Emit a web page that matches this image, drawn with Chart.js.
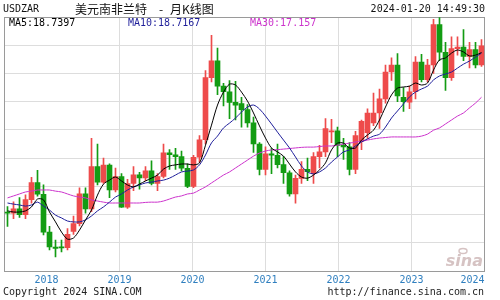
<!DOCTYPE html>
<html>
<head>
<meta charset="utf-8">
<script src="https://cdn.jsdelivr.net/npm/chart.js@4.4.1/dist/chart.umd.min.js"></script>
<style>
  html, body { margin: 0; padding: 0; background: #fff; }
  #wrap { width: 500px; height: 300px; }
</style>
</head>
<body>
<div id="wrap"><canvas id="kChart" width="500" height="300"></canvas></div>
<script>
// USDZAR monthly candles, Jun 2017 .. Jan 2024
var months = [
  "2017-06", "2017-07", "2017-08", "2017-09", "2017-10", "2017-11", "2017-12",
  "2018-01", "2018-02", "2018-03", "2018-04", "2018-05", "2018-06", "2018-07", "2018-08", "2018-09", "2018-10", "2018-11", "2018-12",
  "2019-01", "2019-02", "2019-03", "2019-04", "2019-05", "2019-06", "2019-07", "2019-08", "2019-09", "2019-10", "2019-11", "2019-12",
  "2020-01", "2020-02", "2020-03", "2020-04", "2020-05", "2020-06", "2020-07", "2020-08", "2020-09", "2020-10", "2020-11", "2020-12",
  "2021-01", "2021-02", "2021-03", "2021-04", "2021-05", "2021-06", "2021-07", "2021-08", "2021-09", "2021-10", "2021-11", "2021-12",
  "2022-01", "2022-02", "2022-03", "2022-04", "2022-05", "2022-06", "2022-07", "2022-08", "2022-09", "2022-10", "2022-11", "2022-12",
  "2023-01", "2023-02", "2023-03", "2023-04", "2023-05", "2023-06", "2023-07", "2023-08", "2023-09", "2023-10", "2023-11", "2023-12",
  "2024-01"
];

var opens = [
  13.09, 13.05, 13.20, 13.00, 13.53, 14.13, 13.72,
  12.38, 11.85, 11.86, 11.83, 12.40, 12.68, 13.73, 13.20, 14.70, 14.15, 14.75, 13.87,
  14.35, 13.26, 14.10, 14.41, 14.30, 14.55, 14.10, 14.35, 15.19, 15.12, 15.05, 14.64,
  14.00, 15.03, 15.65, 17.85, 18.45, 17.55, 17.35, 16.98, 16.93, 16.72, 16.25, 15.50,
  14.60, 15.15, 15.10, 14.77, 14.48, 13.73, 14.28, 14.60, 14.45, 15.05, 15.22, 15.93,
  15.97, 15.45, 15.40, 14.60, 15.60, 15.90, 16.25, 16.60, 17.10, 18.05, 18.30, 17.15,
  16.98, 17.35, 18.40, 17.78, 18.30, 19.73, 18.75, 17.85, 18.88, 18.93, 18.60, 18.85,
  18.30
];
var highs = [
  13.28, 13.45, 13.60, 13.70, 14.32, 14.57, 14.05,
  12.58, 12.10, 12.10, 12.50, 12.95, 13.95, 13.95, 15.70, 15.50, 15.00, 14.80, 14.65,
  14.45, 14.25, 14.70, 14.50, 14.70, 14.90, 14.45, 15.50, 15.30, 15.35, 15.25, 14.80,
  15.10, 15.80, 18.10, 19.35, 18.90, 17.65, 17.75, 17.72, 17.15, 16.90, 16.45, 15.55,
  15.40, 15.35, 15.50, 15.05, 14.55, 14.40, 14.88, 15.00, 15.20, 15.45, 16.40, 16.37,
  16.10, 15.70, 15.55, 15.95, 16.35, 16.75, 17.30, 17.45, 18.30, 18.55, 18.70, 17.50,
  17.55, 18.60, 18.68, 18.50, 19.92, 19.98, 19.10, 19.30, 19.30, 19.55, 19.10, 19.10,
  19.20
];
var lows = [
  12.58, 12.85, 12.90, 12.85, 13.40, 13.65, 12.28,
  11.75, 11.50, 11.68, 11.75, 12.30, 12.60, 13.05, 13.10, 14.05, 14.10, 13.60, 13.80,
  13.25, 13.22, 13.85, 13.90, 14.20, 14.05, 13.85, 14.30, 14.60, 14.60, 14.55, 13.95,
  13.95, 14.85, 15.50, 17.70, 17.25, 16.85, 16.40, 16.35, 16.10, 16.10, 15.20, 14.40,
  14.40, 14.45, 14.65, 14.10, 13.65, 13.40, 14.10, 14.20, 14.10, 14.65, 15.05, 15.55,
  15.05, 14.95, 14.40, 14.45, 15.30, 15.70, 16.15, 16.05, 16.95, 17.75, 17.00, 16.65,
  16.75, 17.10, 17.70, 17.70, 18.00, 18.45, 17.40, 17.75, 18.65, 18.45, 18.20, 18.20,
  18.25
];
var closes = [
  13.05, 13.20, 13.00, 13.53, 14.13, 13.72, 12.38,
  11.85, 11.80, 11.82, 12.30, 12.68, 13.73, 13.20, 14.70, 14.15, 14.75, 13.87, 14.35,
  13.26, 14.10, 14.41, 14.30, 14.55, 14.10, 14.35, 15.19, 15.12, 15.05, 14.64, 14.00,
  15.03, 15.65, 17.85, 18.45, 17.55, 17.35, 16.97, 16.88, 16.72, 16.25, 15.50, 14.60,
  15.15, 15.10, 14.77, 14.48, 13.73, 14.28, 14.60, 14.52, 15.05, 15.22, 16.05, 15.97,
  15.45, 15.40, 14.60, 15.80, 16.30, 16.60, 16.60, 17.10, 18.05, 18.30, 17.20, 17.00,
  17.35, 18.40, 17.78, 18.30, 19.73, 18.75, 17.85, 18.88, 18.93, 18.60, 18.85, 18.30,
  18.98
];

// moving averages
var ma5 = [
  13.13, 13.09, 13.09, 13.13, 13.27, 13.55, 13.52,
  13.09, 12.74, 12.38, 12.13, 12.17, 12.45, 12.81, 13.16, 13.69, 14.08, 14.22, 14.33,
  14.19, 14.05, 13.98, 14.08, 14.19, 14.29, 14.40, 14.61, 14.72, 14.76, 14.79, 14.79,
  14.76, 14.83, 15.46, 16.17, 16.88, 17.34, 17.62, 17.59, 17.34, 17.02, 16.60, 16.14,
  15.71, 15.36, 15.22, 15.07, 14.79, 14.51, 14.33, 14.29, 14.40, 14.58, 14.83, 15.29,
  15.53, 15.53, 15.36, 15.36, 15.64, 15.82, 15.99, 16.35, 16.81, 17.24, 17.48, 17.52,
  17.55, 17.66, 17.59, 17.66, 18.12, 18.48, 18.55, 18.72, 18.83, 18.76, 18.62, 18.65,
  18.74
];
var ma10 = [
  13.41, 13.37, 13.34, 13.30, 13.34, 13.44, 13.30,
  13.16, 12.98, 12.88, 12.77, 12.74, 12.74, 12.81, 12.95, 13.13, 13.27, 13.44, 13.62,
  13.73, 13.87, 13.98, 14.05, 14.12, 14.15, 14.19, 14.22, 14.29, 14.40, 14.51, 14.54,
  14.58, 14.76, 15.11, 15.54, 15.78, 16.07, 16.24, 16.42, 16.63, 16.81, 16.88, 16.74,
  16.49, 16.21, 15.92, 15.64, 15.36, 15.04, 14.72, 14.51, 14.44, 14.51, 14.65, 14.86,
  15.04, 15.22, 15.29, 15.43, 15.57, 15.68, 15.78, 15.85, 16.10, 16.42, 16.67, 16.92,
  17.17, 17.34, 17.45, 17.55, 17.77, 17.91, 17.98, 18.05, 18.19, 18.33, 18.44, 18.58,
  18.72
];
var ma30 = [
  13.59, 13.66, 13.73, 13.80, 13.83, 13.87, 13.87,
  13.87, 13.83, 13.80, 13.73, 13.66, 13.62, 13.59, 13.52, 13.48, 13.44, 13.41, 13.41,
  13.41, 13.41, 13.41, 13.41, 13.43, 13.44, 13.44, 13.48, 13.55, 13.62, 13.66, 13.73,
  13.76, 13.87, 13.98, 14.12, 14.26, 14.40, 14.51, 14.65, 14.79, 14.93, 15.07, 15.18,
  15.25, 15.29, 15.30, 15.32, 15.34, 15.36, 15.38, 15.39, 15.39, 15.41, 15.43, 15.43,
  15.46, 15.50, 15.53, 15.57, 15.60, 15.64, 15.68, 15.71, 15.73, 15.75, 15.75, 15.75,
  15.75, 15.75, 15.78, 15.85, 15.99, 16.07, 16.21, 16.35, 16.49, 16.60, 16.78, 16.95,
  17.157
];

var years = [2018, 2019, 2020, 2021, 2022, 2023, 2024];
var maLegend = ["MA5:18.7397", "MA10:18.7167", "MA30:17.157"];

var upColor = "#ee4b4b";
var downColor = "#139c13";
var candleColors = opens.map((o, i) => (closes[i] >= o ? upColor : downColor));

var mono = '"DejaVu Sans Mono", "Liberation Mono", monospace';

var frame = {
  id: "frame",
  beforeDatasetsDraw: function (chart) {
    var c = chart.ctx;
    var a = chart.chartArea;
    c.save();
    // sina watermark
    c.fillStyle = "#d6c3c3";
    c.font = 'italic bold 16px "DejaVu Sans", sans-serif';
    c.textAlign = "right";
    c.textBaseline = "alphabetic";
    c.fillText("sina", 483, 266);
    c.strokeStyle = "#d6c3c3";
    c.lineWidth = 1.5;
    c.beginPath();
    c.ellipse(463, 251, 4, 2.5, 0, 0, Math.PI * 2);
    c.stroke();
    // plot border
    c.strokeStyle = "#9a9a9a";
    c.lineWidth = 1;
    c.strokeRect(Math.floor(a.left) + 0.5, Math.floor(a.top) + 0.5, Math.round(a.right - a.left), Math.round(a.bottom - a.top));
    c.restore();
  },
  afterDraw: function (chart) {
    var c = chart.ctx;
    var a = chart.chartArea;
    var xg = chart.scales.xg;
    c.save();
    c.textBaseline = "middle";

    c.font = "10px " + mono;
    c.fillStyle = "#111";
    c.textAlign = "left";
    c.fillText("USDZAR", 3, 9);

    c.font = '12px "Noto Sans CJK SC", sans-serif';
    c.fillText("美元南非兰特", 75, 9);
    c.textAlign = "center";
    c.fillText("-", 161, 9);
    c.textAlign = "left";
    c.fillText("月K线图", 170, 9);

    c.font = "10px " + mono;
    c.textAlign = "right";
    c.fillText("2024-01-20 14:49:30", 485, 9);

    // MA legend inside the plot
    c.textAlign = "left";
    c.fillStyle = "#000000";
    c.fillText(maLegend[0], 9, 23);
    c.fillStyle = "#1e1e9a";
    c.fillText(maLegend[1], 128, 23);
    c.fillStyle = "#cc33cc";
    c.fillText(maLegend[2], 250, 23);

    // year labels under the year grid lines
    c.fillStyle = "#2f7fbf";
    years.forEach(function (y, i) {
      var px = xg.getPixelForValue(y);
      if (i === years.length - 1) {
        c.textAlign = "right";
        c.fillText(String(y), a.right, 280);
      } else {
        c.textAlign = "center";
        c.fillText(String(y), px, 280);
      }
    });

    c.fillStyle = "#222";
    c.textAlign = "left";
    c.fillText("Copyright 2024 SINA.COM", 3, 292);
    c.textAlign = "right";
    c.fillText("http://finance.sina.com.cn", 484, 292);
    c.restore();
  },
};

var ctx = document.getElementById("kChart").getContext("2d");

var myChart = new Chart(ctx, {
  data: {
    labels: months,
    datasets: [
      {
        type: "line",
        label: "MA5",
        data: ma5,
        borderColor: "#000000",
        borderWidth: 1,
        pointRadius: 0,
        tension: 0.3,
        order: 0,
      },
      {
        type: "line",
        label: "MA10",
        data: ma10,
        borderColor: "#1e1e9a",
        borderWidth: 1,
        pointRadius: 0,
        tension: 0.3,
        order: 0,
      },
      {
        type: "line",
        label: "MA30",
        data: ma30,
        borderColor: "#cc33cc",
        borderWidth: 1,
        pointRadius: 0,
        tension: 0.3,
        order: 1,
      },
      {
        type: "bar",
        label: "body",
        data: opens.map((o, i) => [o, closes[i]]),
        backgroundColor: candleColors,
        barThickness: 5,
        minBarLength: 1,
        grouped: false,
        order: 2,
      },
      {
        type: "bar",
        label: "wick",
        data: lows.map((l, i) => [l, highs[i]]),
        backgroundColor: candleColors,
        barThickness: 1,
        grouped: false,
        order: 3,
      },
    ],
  },
  options: {
    responsive: false,
    animation: false,
    devicePixelRatio: 1,
    layout: {
      padding: { left: 4.5, right: 15.5, top: 17, bottom: 29 },
    },
    plugins: {
      legend: { display: false },
      tooltip: { enabled: false },
    },
    scales: {
      x: {
        type: "category",
        display: false,
        offset: true,
      },
      xg: {
        type: "linear",
        position: "bottom",
        min: 2017.425,
        max: 2024,
        ticks: { display: false, stepSize: 1 },
        grid: {
          drawTicks: false,
          color: function (c) {
            return c.tick && Number.isInteger(c.tick.value) ? "#dddddd" : "rgba(0,0,0,0)";
          },
        },
        border: { display: false },
      },
      y: {
        min: 11,
        max: 20,
        ticks: { display: false, stepSize: 1 },
        grid: { drawTicks: false, color: "#dddddd" },
        border: { display: false },
      },
    },
  },
  plugins: [frame],
});
</script>
</body>
</html>
